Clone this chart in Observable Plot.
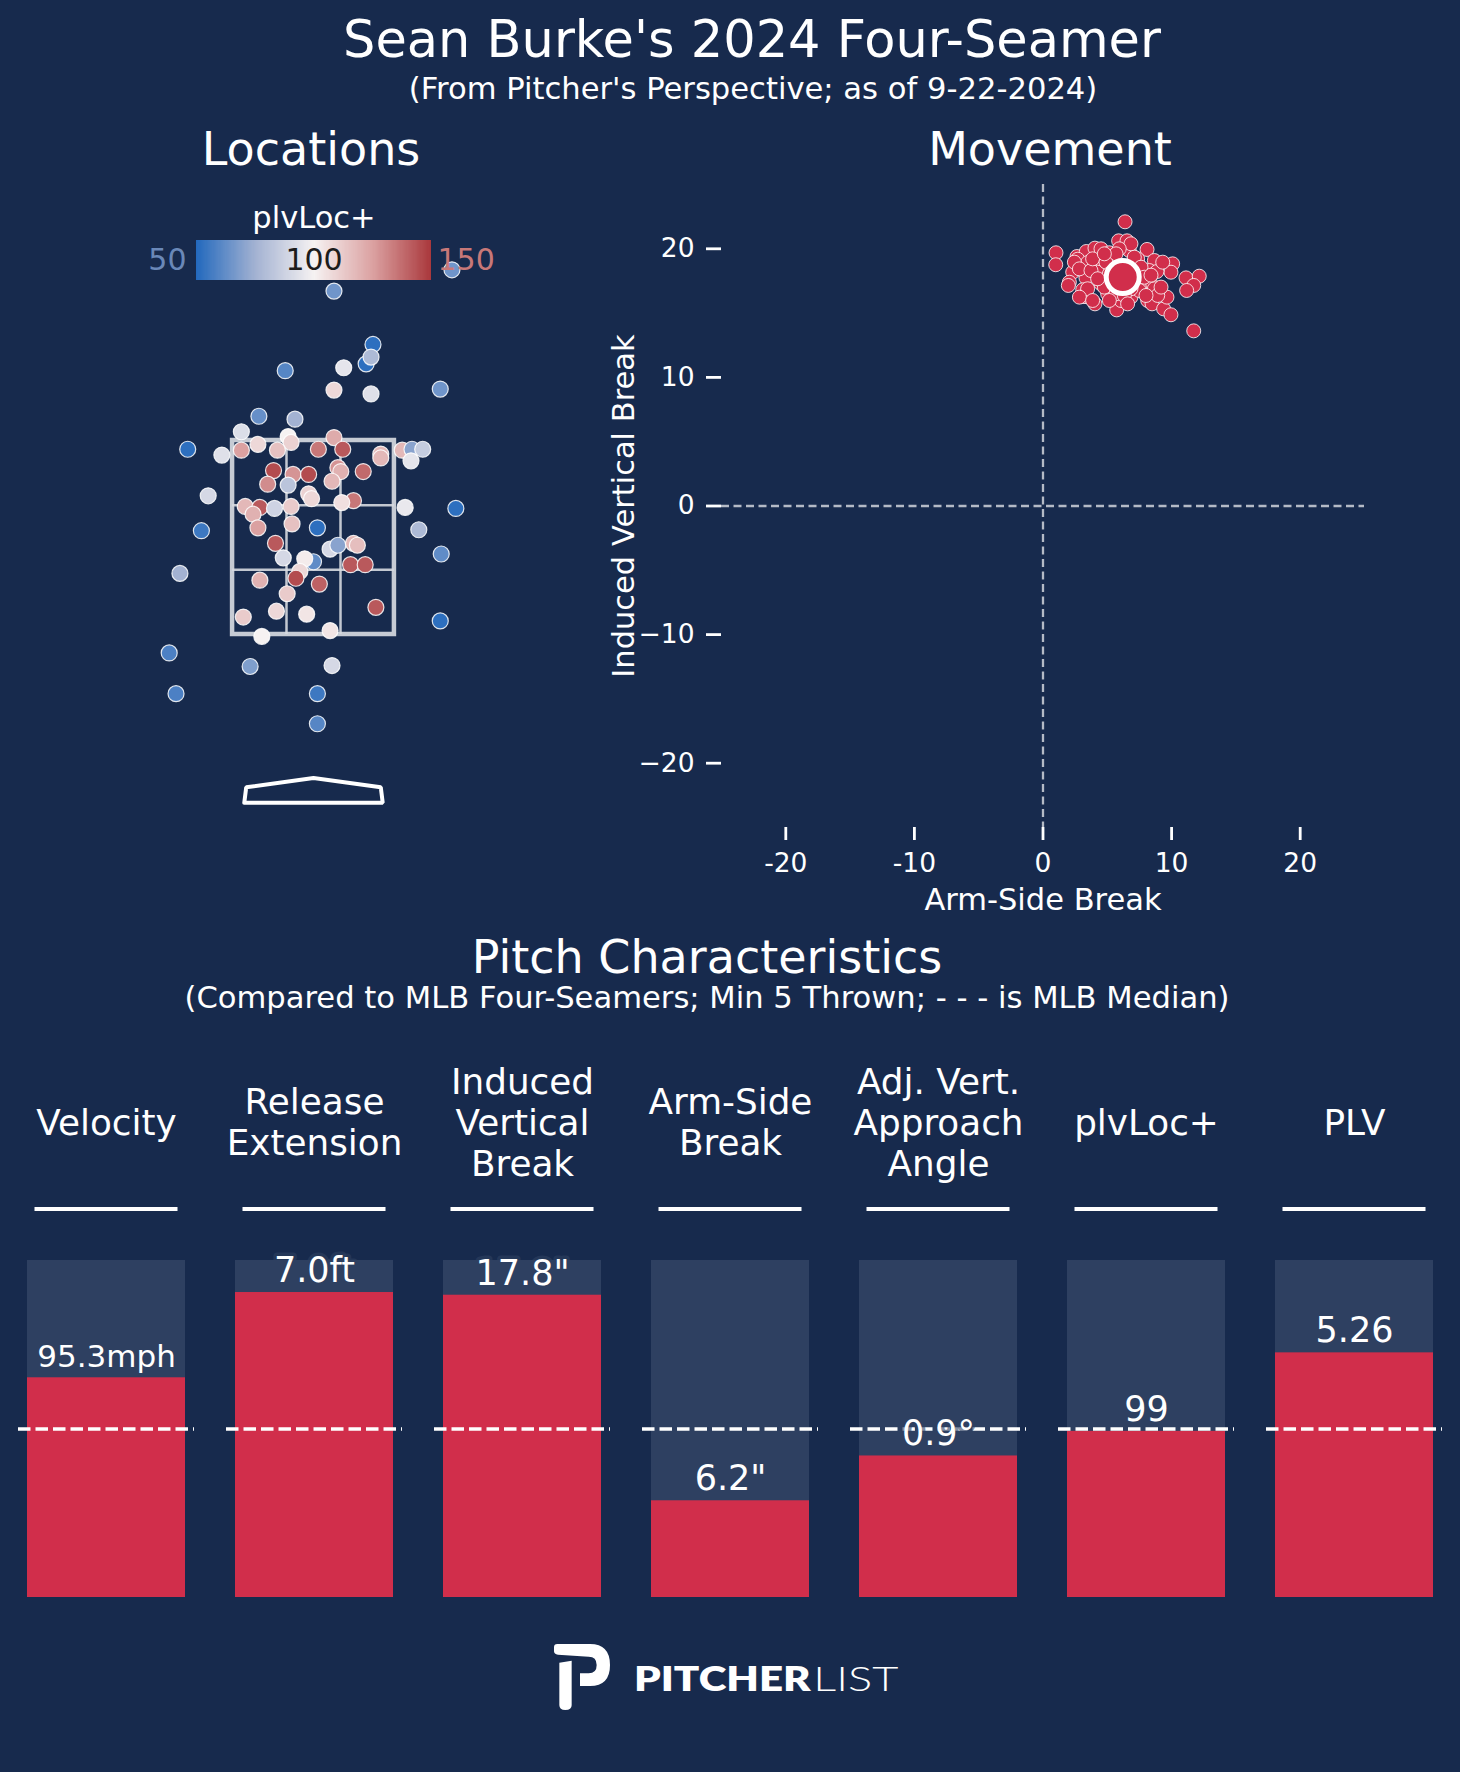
<!DOCTYPE html>
<html><head><meta charset="utf-8">
<script src="https://cdn.jsdelivr.net/npm/d3@7"></script>
<script src="https://cdn.jsdelivr.net/npm/@observablehq/plot@0.6"></script>
<style>
html,body{margin:0;padding:0;background:#172a4d;}
#root{position:relative;width:1460px;height:1772px;background:#172a4d;overflow:hidden;font-family:"DejaVu Sans",sans-serif;color:#fff;}
.t{position:absolute;white-space:nowrap;text-align:center;line-height:1;color:#fff;}
</style></head><body><div id="root"></div>
<script>
// ---------- data ----------
// Locations (plate_x ft, plate_z ft, plvLoc+)
const locX = [1.42,0.21,0.61,0.54,0.59,-0.29,0.31,0.21,0.59,1.30,-0.56,-0.19,-0.74,-0.26,0.21,-0.23,-0.57,-0.74,-0.37,0.05,0.30,-1.29,-0.94,0.69,0.69,0.91,1.01,1.12,1.00,-0.41,-0.21,-0.05,0.25,0.28,0.51,-0.47,-0.26,0.19,-0.05,-0.02,-1.08,0.41,0.29,-0.70,-0.55,-0.62,-0.40,-0.23,0.94,1.46,-0.57,-0.22,0.04,-1.15,1.08,-0.39,0.17,0.25,0.41,0.45,1.31,-0.31,0.00,-0.09,0.38,0.53,-1.37,-0.14,-0.18,-0.55,0.06,-0.27,0.64,-0.72,-0.38,-0.07,1.30,-0.53,0.17,-1.48,-0.65,0.19,-1.41,0.04,0.04];
const locZ = [5.26,5.04,4.49,4.29,4.36,4.22,4.25,4.02,3.98,4.03,3.75,3.72,3.59,3.54,3.53,3.48,3.46,3.40,3.40,3.41,3.41,3.41,3.35,3.36,3.32,3.40,3.41,3.41,3.29,3.19,3.15,3.15,3.22,3.18,3.18,3.05,3.04,3.08,2.95,2.90,2.93,2.88,2.86,2.82,2.81,2.74,2.80,2.82,2.81,2.80,2.60,2.64,2.60,2.57,2.58,2.44,2.38,2.42,2.44,2.42,2.33,2.29,2.25,2.28,2.22,2.22,2.13,2.15,2.08,2.06,2.02,1.92,1.78,1.68,1.74,1.71,1.64,1.48,1.54,1.31,1.17,1.18,0.89,0.89,0.58];
const locPlv = [65,65,52,52,78,60,95,108,93,65,63,75,92,100,122,110,108,125,115,135,142,52,93,118,118,118,70,85,95,145,128,145,128,120,138,130,82,118,110,108,90,135,106,118,142,120,88,112,96,52,125,115,52,55,78,142,90,70,118,116,62,90,62,102,142,142,75,108,145,120,140,112,142,112,108,104,52,100,104,58,68,90,58,55,60];

// Strike zone and plate (ft)
const zoneX = [-0.83, 0.83];
const zoneZ = [1.5, 3.5];
const zoneInnerX = [-0.277, 0.277];
const zoneInnerZ = [2.167, 2.833];
const plateX = [-0.71, 0.71, 0.69, 0, -0.69, -0.71];
const plateZ = [-0.235, -0.235, -0.075, 0.02, -0.075, -0.235];

// Movement (arm-side break in, induced vertical break in)
const movX = [6.38,5.88,6.53,1.01,0.99,2.64,3.37,4.04,4.51,5.16,6.71,8.09,2.70,3.47,4.51,7.36,8.66,10.08,9.95,2.31,2.05,1.97,3.34,3.09,3.34,4.04,4.51,5.03,5.73,6.84,8.27,8.86,8.34,8.14,8.48,9.38,9.95,9.64,11.12,12.15,11.72,11.17,11.72,7.49,5.23,8.66,8.92,4.25,6.07,3.16,2.44,2.83,3.73,3.86,4.90,5.16,4.77,3.47,4.25,7.10,7.62,7.88,7.49,6.84,5.68,6.32,8.40,8.01,2.83,6.84,5.93,5.68,4.77,9.31,9.18,5.16,3.86,6.58];
const movY = [22.10,20.62,20.62,19.69,18.76,19.40,19.79,20.05,20.00,19.69,19.87,19.95,19.19,18.93,18.78,19.22,19.09,18.83,18.18,18.18,17.40,17.15,17.74,16.81,16.29,15.72,17.28,16.50,15.25,16.24,18.31,18.23,17.40,15.98,15.72,15.33,14.87,16.24,17.74,17.87,17.15,16.76,13.62,17.02,16.89,16.89,16.37,18.18,15.98,16.29,18.96,18.44,18.31,19.22,18.96,18.05,17.02,16.89,17.67,19.35,18.57,17.79,16.76,16.89,16.50,16.37,17.95,16.37,16.24,20.39,20.00,19.61,19.61,18.96,17.02,15.98,15.98,15.72];
const movMean = {x: 6.2, y: 17.8};
const movTicks = [-20, -10, 0, 10, 20];

// Pitch characteristics (percentile vs MLB four-seamers)
const metrics = ["Velocity", "Release Extension", "Induced Vertical Break", "Arm-Side Break", "Adj. Vert. Approach Angle", "plvLoc+", "PLV"];
const headers = ["Velocity", "Release\nExtension", "Induced\nVertical\nBreak", "Arm-Side\nBreak", "Adj. Vert.\nApproach\nAngle", "plvLoc+", "PLV"];
const valueLabels = ["95.3mph", "7.0ft", "17.8\"", "6.2\"", "0.9°", "99", "5.26"];
const percentiles = [65.2, 90.5, 89.7, 28.7, 42.0, 49.3, 72.6];
const medianPct = 50;

// colour bar ticks
const cbTicks = [50, 100, 150];

// ---------- styling ----------
const RED = "#d12e4b";
const BARBG = "#2e4061";
const style = {background: "transparent", color: "white", fontFamily: "DejaVu Sans", overflow: "visible"};
const plvColor = {type: "linear", domain: [50, 75, 100, 125, 150], range: ["#2369bd", "#a3b2d2", "#f6f2f2", "#dba1a1", "#a9373b"], clamp: true};

const root = document.getElementById("root");
function addText(str, cx, baseline, size) {
  const d = document.createElement("div");
  d.className = "t";
  d.textContent = str;
  d.style.fontSize = size + "px";
  d.style.left = (cx - 700) + "px";
  d.style.width = "1400px";
  d.style.top = (baseline - 0.846 * size) + "px";
  root.appendChild(d);
}
function place(node, left, top) {
  const w = document.createElement("div");
  w.style.position = "absolute";
  w.style.left = left + "px";
  w.style.top = top + "px";
  w.appendChild(node);
  root.appendChild(w);
}

// ---------- titles ----------
addText("Sean Burke's 2024 Four-Seamer", 752, 57, 51);
addText("(From Pitcher's Perspective; as of 9-22-2024)", 753, 100, 30.6);
addText("Locations", 311, 165, 46);
addText("Movement", 1050, 165, 46);
addText("Pitch Characteristics", 707, 973, 46);
addText("(Compared to MLB Four-Seamers; Min 5 Thrown; - - - is MLB Median)", 707, 1009, 30.6);

// ---------- locations ----------
const locRows = locX.map((x, i) => ({x, z: locZ[i], v: locPlv[i]}));
const plateRows = plateX.map((x, i) => ({x, z: plateZ[i]})).concat([{x: plateX[0], z: plateZ[0]}]);
const zoneStroke = "#d6d9e0";
const loc = Plot.plot({
  width: 400, height: 640, margin: 0,
  x: {domain: [-1, 1], range: [102.5, 297.5], axis: null},
  y: {domain: [1.5, 3.5], range: [444, 250], axis: null},
  color: plvColor,
  style,
  marks: [
    Plot.ruleX(zoneInnerX, {y1: zoneZ[0], y2: zoneZ[1], stroke: zoneStroke, strokeWidth: 2.5, strokeOpacity: 0.9}),
    Plot.ruleY(zoneInnerZ, {x1: zoneX[0], x2: zoneX[1], stroke: zoneStroke, strokeWidth: 2.5, strokeOpacity: 0.9}),
    Plot.rect([0], {x1: zoneX[0], x2: zoneX[1], y1: zoneZ[0], y2: zoneZ[1], fill: "none", stroke: zoneStroke, strokeWidth: 4.5, strokeOpacity: 0.92}),
    Plot.line(plateRows, {x: "x", y: "z", stroke: "white", strokeWidth: 4, strokeLinejoin: "miter"}),
    Plot.dot(locRows, {x: "x", y: "z", fill: "v", r: 8, stroke: "white", strokeWidth: 1.2, strokeOpacity: 0.85})
  ]
});
place(loc, 113, 190);

// colour bar
const cbSteps = d3.range(50, 150, 0.5);
const cb = Plot.plot({
  width: 360, height: 90, margin: 0,
  x: {domain: [50, 150], range: [56, 291], axis: null},
  y: {domain: [0, 1], range: [85, 45], axis: null},
  color: plvColor,
  style,
  marks: [
    Plot.rect(cbSteps, {x1: d => d, x2: d => Math.min(150, d + 1), y1: 0, y2: 1, fill: d => d, shapeRendering: "crispEdges"}),
    Plot.text(["plvLoc+"], {x: 100, y: 1, dy: -13, lineAnchor: "bottom", fontSize: 30.5, fill: "white"}),
    Plot.text([cbTicks[0]], {x: d => d, y: 0.5, text: d => String(d), textAnchor: "end", dx: -10, fontSize: 30, fill: "#6a88b8"}),
    Plot.text([cbTicks[1]], {x: d => d, y: 0.5, text: d => String(d), fontSize: 30, fill: "#1c1c1c"}),
    Plot.text([cbTicks[2]], {x: d => d, y: 0.5, text: d => String(d), textAnchor: "start", dx: 6, fontSize: 30, fill: "#c87878"})
  ]
});
place(cb, 140, 195);

// ---------- movement ----------
const movRows = movX.map((x, i) => ({x, y: movY[i]}));
const signed = d => d < 0 ? "\u2212" + Math.abs(d) : String(d);
const mov = Plot.plot({
  width: 800, height: 720,
  marginLeft: 121, marginRight: 36, marginTop: 14, marginBottom: 63,
  x: {domain: [-25, 25]},
  y: {domain: [-25, 25]},
  style,
  marks: [
    Plot.ruleY([0], {stroke: "#b4bac6", strokeWidth: 2.3, strokeDasharray: "8,4.5"}),
    Plot.ruleX([0], {stroke: "#b4bac6", strokeWidth: 2.3, strokeDasharray: "8,4.5"}),
    Plot.axisX({ticks: movTicks, tickSize: 13, tickPadding: 13, fontSize: 26.5, strokeWidth: 2.8, tickFormat: d => String(d), label: null}),
    Plot.axisY({ticks: movTicks, tickSize: 15, tickPadding: 12, fontSize: 26.5, strokeWidth: 2.8, tickFormat: signed, label: null}),
    Plot.dot(movRows, {x: "x", y: "y", r: 7, fill: RED, stroke: "white", strokeWidth: 1, strokeOpacity: 0.8}),
    Plot.dot([movMean], {x: "x", y: "y", r: 16.5, fill: RED, stroke: "white", strokeWidth: 5}),
    Plot.text(["Arm-Side Break"], {frameAnchor: "bottom", dy: 82, textAnchor: "middle", lineAnchor: "bottom", fontSize: 30.5, fill: "white"}),
    Plot.text(["Induced Vertical Break"], {frameAnchor: "left", dx: -88, rotate: -90, textAnchor: "middle", lineAnchor: "bottom", fontSize: 30.5, fill: "white"})
  ]
});
place(mov, 600, 170);

// ---------- pitch characteristics ----------
const rows = metrics.map((m, i) => ({metric: m, header: headers[i], label: valueLabels[i], pct: percentiles[i]}));
const headerRuleLevel = 115.3;
const bars = Plot.plot({
  width: 1460, height: 580, margin: 0,
  x: {domain: metrics, range: [26.5, 1433.3], paddingInner: 0.2415, paddingOuter: 0, axis: null},
  y: {domain: [0, 100], range: [557, 220], axis: null},
  style,
  marks: [
    Plot.barY(rows, {x: "metric", y1: 0, y2: 100, fill: BARBG}),
    Plot.barY(rows, {x: "metric", y1: 0, y2: "pct", fill: RED}),
    Plot.tickY(rows, {x: "metric", y: () => medianPct, stroke: "white", strokeWidth: 3.5, strokeDasharray: "12.5,5", insetLeft: -9, insetRight: -9}),
    Plot.text(rows, {x: "metric", y: "pct", text: "label", lineAnchor: "bottom", dy: -10.5, fontSize: d => (d.label.length > 6 ? 31 : 35), fill: "white", stroke: BARBG, strokeWidth: 7, strokeOpacity: 0.6}),
    Plot.text(rows, {x: "metric", text: "header", frameAnchor: "top", dy: 81, textAnchor: "middle", lineAnchor: "middle", lineHeight: 1.143, fontSize: 35.8, fill: "white"}),
    Plot.tickY(rows, {x: "metric", y: () => headerRuleLevel, stroke: "white", strokeWidth: 4, insetLeft: 7.5, insetRight: 7.5})
  ]
});
place(bars, 0, 1040);

// ---------- logo ----------
const ns = "http://www.w3.org/2000/svg";
const logo = document.createElementNS(ns, "svg");
logo.setAttribute("width", 400);
logo.setAttribute("height", 110);
logo.setAttribute("viewBox", "0 0 1200 330");
logo.innerHTML = `
  <path fill="white" d="M72,82 Q72,72 82,72 L180,72 Q240,72 240,135 Q240,198 180,198 L150,198 L150,160 L176,160 Q200,160 200,135 Q200,110 176,110 L84,104 Q72,103 72,94 Z"/>
  <path fill="white" d="M88,128 L125,122 L125,255 Q125,270 106,270 Q88,270 88,255 Z"/>
  <text x="312" y="212" font-family="Lato, 'Open Sans', sans-serif" font-weight="800" font-size="100" fill="white" textLength="530" lengthAdjust="spacingAndGlyphs">PITCHER</text>
  <text x="850" y="212" font-family="Lato, 'Open Sans', sans-serif" font-weight="300" font-size="100" fill="white" textLength="255" lengthAdjust="spacingAndGlyphs">LIST</text>`;
place(logo, 530, 1620);
</script></body></html>
